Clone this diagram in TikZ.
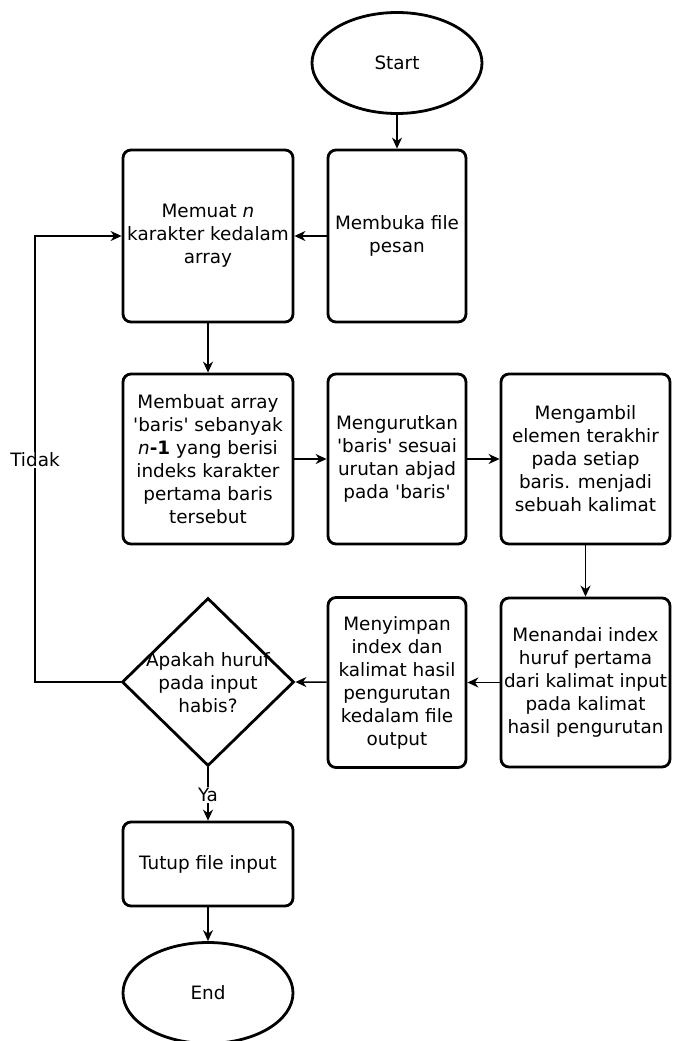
\documentclass[tikz,border=0pt]{standalone}
\usepackage{fontspec}
\setmainfont{DejaVu Sans}
\usetikzlibrary{shapes.geometric,arrows.meta}
\newcommand{\sq}{\textquotesingle}
\begin{document}
\begin{tikzpicture}[x=1pt,y=-1pt,
  every node/.style={font=\fontsize{18.4}{23}\selectfont, align=center, text=black},
  procbox/.style={draw, line width=2.8pt, rounded corners=8pt, inner sep=0pt},
  termin/.style={draw, ellipse, line width=2.8pt, inner sep=0pt, minimum width=170pt, minimum height=101pt},
  decision/.style={draw, diamond, line width=2.8pt, inner sep=0pt, minimum width=172pt, minimum height=168pt},
  conn/.style={line width=1.5pt, -{Stealth[length=11pt,width=10pt,inset=3.5pt]}},
  tag/.style={fill=white, inner sep=1pt}
]
\useasboundingbox (0,0) rectangle (672,1041);

% terminals
\node[termin] (start) at (397,63) {Start};
\node[termin] (end) at (208,993) {End};

% process boxes
\node[procbox, minimum width=138pt, minimum height=172pt] (buka) at (397,236) {Membuka file\\pesan};
\node[procbox, minimum width=170pt, minimum height=172pt] (muat) at (208,236) {Memuat \textit{n}\\karakter kedalam\\array};
\node[procbox, minimum width=170pt, minimum height=170pt] (buat) at (208,459)
  {Membuat array\\\sq baris\sq{} sebanyak\\\textit{n}\textbf{-1} yang berisi\\indeks karakter\\pertama baris\\tersebut};
\node[procbox, minimum width=138pt, minimum height=170pt] (urut) at (397,459)
  {Mengurutkan\\\sq baris\sq{} sesuai\\urutan abjad\\pada \sq baris\sq};
\node[procbox, minimum width=169pt, minimum height=170pt] (ambil) at (585.5,459)
  {Mengambil\\elemen terakhir\\pada setiap\\baris. menjadi\\sebuah kalimat};
\node[procbox, minimum width=169pt, minimum height=169pt] (tandai) at (585.5,682.5)
  {Menandai index\\huruf pertama\\dari kalimat input\\pada kalimat\\hasil pengurutan};
\node[procbox, minimum width=138pt, minimum height=170pt] (simpan) at (397,682.5)
  {Menyimpan\\index dan\\kalimat hasil\\pengurutan\\kedalam file\\output};
\node[decision] (cek) at (208,682) {};
\node (cektext) at (208,683) {Apakah huruf\\pada input\\habis?};
\node[procbox, minimum width=170pt, minimum height=84pt] (tutup) at (208,864) {Tutup file input};

% connectors
\draw[conn] (start) -- (buka);
\draw[conn] (buka) -- (muat);
\draw[conn] (muat) -- (buat);
\draw[conn] (buat) -- (urut);
\draw[conn] (urut) -- (ambil);
\draw[conn] (ambil) -- (tandai);
\draw[conn] (tandai) -- (simpan);
\draw[conn] (simpan) -- (cek.east);

\coordinate (loop) at (35,682);
\draw[conn] (cek.west) -- (loop) |- (muat.west);
\node[tag] (tidak) at (35,460) {Tidak};

\draw[conn] (cek.south) -- (tutup.north);
\node[tag] (ya) at (208,795) {Ya};
\draw[conn] (tutup) -- (end);
\end{tikzpicture}
\end{document}
